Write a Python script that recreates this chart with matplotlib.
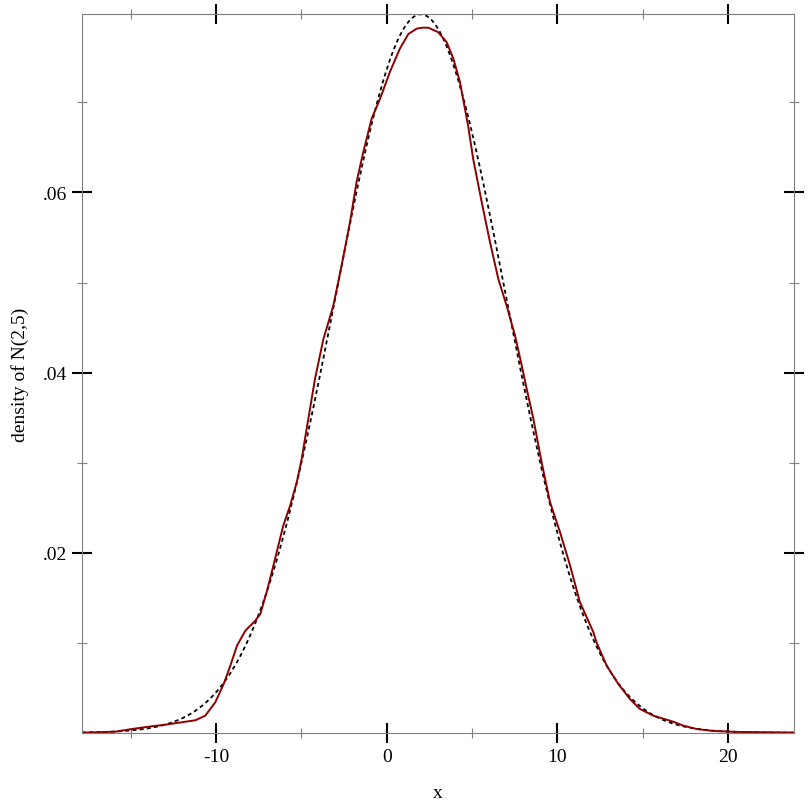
import numpy as np
import matplotlib
matplotlib.use('Agg')
import matplotlib.pyplot as plt
from matplotlib.ticker import FixedLocator, FuncFormatter

# normal distribution drawn as the dotted reference curve
MU = 2.0
SIGMA = 5.0
x_lo = -17.85
x_hi = 23.88

# estimated density of the sample
kde_x = [-17.85, -15.90, -14.92, -13.94, -12.97, -11.99, -11.21, -10.63, -10.04,
         -9.55, -9.16, -8.77, -8.28, -7.70, -7.40, -7.15, -7.03, -6.54, -6.06,
         -5.66, -5.27, -4.98, -4.79, -4.49, -4.20, -3.71, -3.13, -2.64, -2.15,
         -1.76, -1.37, -0.88, -0.39, 0.19, 0.78, 1.27, 1.76, 2.10, 2.44, 3.02, 3.51,
         3.90, 4.29, 4.78, 5.07, 5.57, 6.05, 6.54, 7.03, 7.52, 7.91, 8.20, 8.59,
         9.08, 9.57, 10.15, 10.74, 11.32, 12.10, 12.30, 12.89, 13.57, 14.25,
         14.84, 15.62, 16.79, 17.38, 18.16, 19.13, 20.70, 23.63, 23.88]
kde_y = [0.0, 0.00011, 0.00041, 0.00067, 0.00089, 0.00116, 0.00138, 0.00189, 0.00338,
         0.00541, 0.00744, 0.00967, 0.01133, 0.01244, 0.01319, 0.01486, 0.0156, 0.0193, 0.0230,
         0.0252, 0.0278, 0.0304, 0.0326, 0.0360, 0.0393, 0.0437, 0.0474, 0.0519, 0.0567,
         0.0612, 0.0645, 0.0682, 0.0704, 0.0734, 0.0760, 0.0776, 0.0782, 0.0783, 0.0783, 0.0778, 0.0767,
         0.0749, 0.0723, 0.0673, 0.0637, 0.0589, 0.0545, 0.0504, 0.0474, 0.0441, 0.0408, 0.0382, 0.0349,
         0.0300, 0.0256, 0.0223, 0.0186, 0.0145, 0.0112, 0.0100, 0.00744, 0.00541, 0.00374,
         0.00263, 0.00189, 0.00122, 0.00078, 0.00041, 0.00019, 0.00008, 0.00002, 0.0]

x_major = [-10, 0, 10, 20]
x_minor = [-15, -5, 5, 15]
y_major = [0.02, 0.04, 0.06]
y_minor = [0.01, 0.03, 0.05, 0.07]

plt.rcParams['font.family'] = ['Liberation Serif', 'DejaVu Serif']

fig = plt.figure(figsize=(8.12, 8.12), dpi=100)
ax = fig.add_axes([82 / 812, (812 - 733.7) / 812, (794.3 - 82) / 812, (733.7 - 15.3) / 812])

xs = np.linspace(x_lo, x_hi, 600)
pdf = np.exp(-0.5 * ((xs - MU) / SIGMA) ** 2) / (SIGMA * np.sqrt(2 * np.pi))
ax.plot(xs, pdf, color='black', lw=1.3, linestyle=(0, (2.2, 1.8)))
ax.plot(kde_x, kde_y, color='#8b0000', lw=1.4, solid_joinstyle='round')

ax.set_xlim(x_lo, x_hi)
ax.set_ylim(0, 1 / (SIGMA * np.sqrt(2 * np.pi)))

for s in ax.spines.values():
    s.set_color('#808080')
    s.set_linewidth(0.8)

ax.xaxis.set_major_locator(FixedLocator(x_major))
ax.xaxis.set_minor_locator(FixedLocator(x_minor))
ax.yaxis.set_major_locator(FixedLocator(y_major))
ax.yaxis.set_minor_locator(FixedLocator(y_minor))
ax.xaxis.set_major_formatter(FuncFormatter(lambda v, p: '%d' % v))
ax.yaxis.set_major_formatter(FuncFormatter(lambda v, p: ('%.2f' % v).lstrip('0')))

ax.tick_params(which='major', direction='inout', length=14.4, width=1.5, color='black',
               top=True, right=True, labelsize=14, pad=3.5)
ax.tick_params(which='minor', direction='inout', length=7.2, width=0.8, color='#808080',
               top=True, right=True)

ax.set_xlabel('x', fontsize=14)
ax.set_ylabel('density of N(2,5)', fontsize=14)
ax.xaxis.set_label_coords(0.5, -0.071)
ax.yaxis.set_label_coords(-0.075, 0.5)

fig.savefig('out.png', dpi=100)
